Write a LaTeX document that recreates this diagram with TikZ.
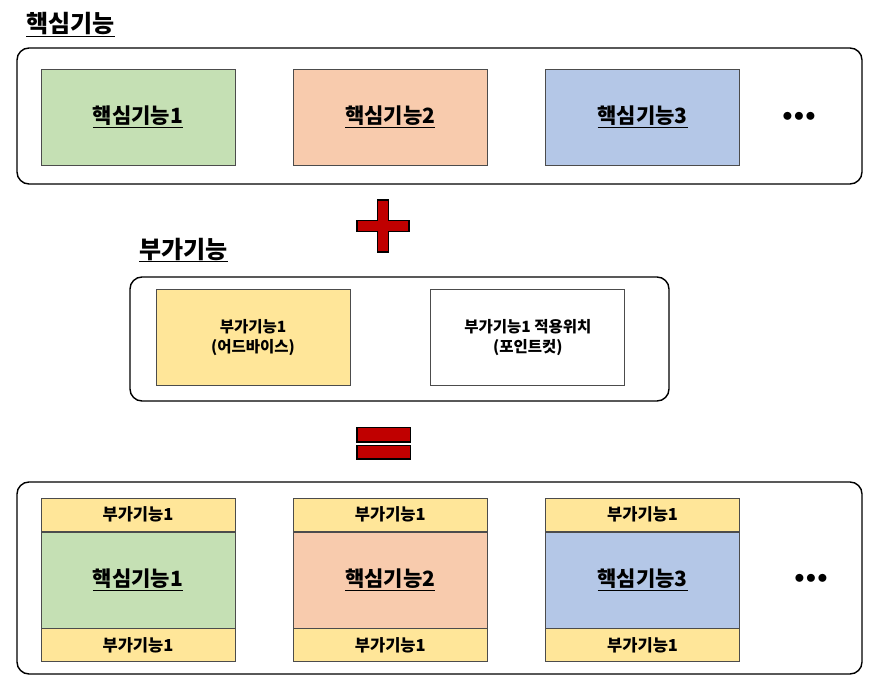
\documentclass[tikz,border=0pt]{standalone}
\usepackage{fontspec}
\setmainfont{Noto Sans CJK KR}
\usetikzlibrary{positioning}
\definecolor{coregreen}{HTML}{C5E0B4}
\definecolor{coreorange}{HTML}{F8CBAD}
\definecolor{coreblue}{HTML}{B4C7E7}
\definecolor{addyellow}{HTML}{FFE699}
\definecolor{signred}{HTML}{C00000}

\begin{document}
\begin{tikzpicture}[
  x=1bp, y=-1bp,
  font=\bfseries,
  node distance=57.5bp,
  group/.style={
    draw=black, line width=1.4bp, rounded corners=12bp, fill=white
  },
  title/.style={anchor=base west, inner sep=0pt, font=\bfseries\fontsize{24bp}{26bp}\selectfont},
  fbox/.style={
    draw=black!70, line width=0.8bp, minimum width=194bp, minimum height=96bp,
    inner sep=0pt, align=center, font=\bfseries\fontsize{21bp}{24bp}\selectfont
  },
  corebox/.style={fbox, fill=#1},
  addbox/.style={
    draw=black!70, line width=0.8bp, fill=addyellow, minimum width=194bp,
    minimum height=33bp, inner sep=0pt, font=\bfseries\fontsize{16.5bp}{19bp}\selectfont
  },
  smallbox/.style={fbox, font=\bfseries\fontsize{15.5bp}{19.5bp}\selectfont},
  dots/.style={inner sep=0pt, font=\bfseries\fontsize{20bp}{22bp}\selectfont},
  sign/.style={fill=signred, draw=black, line width=1.2bp},
]
\useasboundingbox (0,0) rectangle (883,697);

% core features
\node[title] (coretitle) at (26,33) {\underline{핵심기능}};
\node[group, minimum width=845bp, minimum height=136bp] (coregroup) at (439.5,116) {};
\node[corebox=coregreen] (core1) at (138,117) {\underline{핵심기능1}};
\node[corebox=coreorange, right=of core1] (core2) {\underline{핵심기능2}};
\node[corebox=coreblue, right=of core2] (core3) {\underline{핵심기능3}};
\node[dots] (coredots) at (799,117) {$\bullet\!\bullet\!\bullet$};

% plus
\draw[sign] (377.5,200) -- (388.5,200) -- (388.5,220.5) -- (409,220.5) -- (409,231.5)
  -- (388.5,231.5) -- (388.5,252) -- (377.5,252) -- (377.5,231.5) -- (357,231.5)
  -- (357,220.5) -- (377.5,220.5) -- cycle;

% additional feature
\node[title] (addtitle) at (139,258) {\underline{부가기능}};
\node[group, minimum width=539bp, minimum height=124bp] (addgroup) at (399.5,339) {};
\node[smallbox, fill=addyellow] (advice) at (253,337.5) {부가기능1\\(어드바이스)};
\node[smallbox, fill=white, right=80bp of advice] (pointcut) {부가기능1 적용위치\\(포인트컷)};

% equals
\draw[sign] (357,427.5) rectangle (410.5,442);
\draw[sign] (357,445.5) rectangle (410.5,459);

% result
\node[group, minimum width=845bp, minimum height=192bp] (resgroup) at (439.5,578) {};
\node[corebox=coregreen] (res1) at (138,580) {\underline{핵심기능1}};
\node[corebox=coreorange, right=of res1] (res2) {\underline{핵심기능2}};
\node[corebox=coreblue, right=of res2] (res3) {\underline{핵심기능3}};
\foreach \c in {res1,res2,res3}{
  \node[addbox, above=0pt of \c] (\c top) {부가기능1};
  \node[addbox, below=0pt of \c] (\c bot) {부가기능1};
}
\node[dots] (resdots) at (811,579) {$\bullet\!\bullet\!\bullet$};

\end{tikzpicture}
\end{document}
